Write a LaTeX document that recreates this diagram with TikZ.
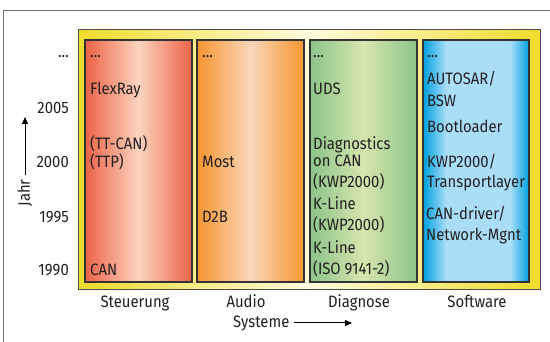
\documentclass[tikz,border=0pt]{standalone}
\usepackage{fontspec}
\setmainfont[FakeStretch=0.9]{Fira Sans}
\usetikzlibrary{arrows.meta}
\definecolor{ylw}{RGB}{240,220,42}
\definecolor{ylwl}{RGB}{255,251,222}
\definecolor{redE}{RGB}{236,98,70}
\definecolor{redM}{RGB}{252,212,192}
\definecolor{orE}{RGB}{245,150,48}
\definecolor{orM}{RGB}{251,214,186}
\definecolor{grE}{RGB}{140,196,138}
\definecolor{grM}{RGB}{214,230,174}
\definecolor{blE}{RGB}{0,160,224}
\definecolor{blM}{RGB}{170,222,248}
\definecolor{txt}{RGB}{35,31,32}
\pgfdeclarehorizontalshading{blueshade}{100bp}{color(0bp)=(blE); color(25bp)=(blE); color(36bp)=(blM); color(66bp)=(blM); color(75bp)=(blE); color(100bp)=(blE)}
\begin{document}
\begin{tikzpicture}[x=1pt,y=-1pt,
  every node/.style={font=\fontsize{16.5}{19}\selectfont, text=txt, inner sep=0pt},
  col/.style={draw=black!80, line width=1.1pt},
  lbl/.style={anchor=base west},
  yr/.style={anchor=base east},
  cat/.style={anchor=base},
  axarrow/.style={line width=1pt, -{Triangle[length=7pt,width=6pt]}}]
\useasboundingbox (0,0) rectangle (550,342);
\draw[black!55, line width=1pt] (3,345) -- (3,11) -- (553,11);
% yellow frame
\path[draw=black!70, line width=1pt, left color=ylw, right color=ylw, middle color=ylwl] (78,30) rectangle (540,290);
% columns
\path[col, left color=redE, right color=redE, middle color=redM] (85,40) rectangle (192,282);
\path[col, left color=orE, right color=orE, middle color=orM] (197,40) rectangle (304,282);
\path[col, left color=grE, right color=grE, middle color=grM] (310,40) rectangle (417,282);
\path[col, shading=blueshade, shading angle=0] (423,40) rectangle (529,282);
% year axis
\node[yr] (ydots) at (69,58) {...};
\node[yr] (y2005) at (69,114) {2005};
\node[yr] (y2000) at (69,168) {2000};
\node[yr] (y1995) at (69,223) {1995};
\node[yr] (y1990) at (69,276) {1990};
\node[rotate=90, anchor=base] (jahr) at (30,193) {Jahr};
\coordinate (jtip) at (25,117);
\draw[axarrow] (25,175) -- (jtip);
% column 1
\node[lbl] (c1a) at (90,58) {...};
\node[lbl] (c1b) at (90,95) {FlexRay};
\node[lbl] (c1c) at (90,150) {(TT-CAN)};
\node[lbl] (c1d) at (90,168) {(TTP)};
\node[lbl] (c1e) at (90,276) {CAN};
% column 2
\node[lbl] (c2a) at (202,58) {...};
\node[lbl] (c2b) at (202,168) {Most};
\node[lbl] (c2c) at (202,223) {D2B};
% column 3
\node[lbl] (c3a) at (313,58) {...};
\node[lbl] (c3b) at (313,95) {UDS};
\node[lbl] (c3c) at (313,150) {Diagnostics};
\node[lbl] (c3d) at (313,167) {on CAN};
\node[lbl] (c3e) at (313,188) {(KWP2000)};
\node[lbl] (c3f) at (313,210) {K-Line};
\node[lbl] (c3g) at (313,231) {(KWP2000)};
\node[lbl] (c3h) at (313,254) {K-Line};
\node[lbl] (c3i) at (313,275) {(ISO 9141-2)};
% column 4
\node[lbl] (c4a) at (427,58) {...};
\node[lbl] (c4b) at (427,85) {AUTOSAR/};
\node[lbl] (c4c) at (427,107) {BSW};
\node[lbl] (c4d) at (427,133) {Bootloader};
\node[lbl] (c4e) at (427,168) {KWP2000/};
\node[lbl] (c4f) at (427,188) {Transportlayer};
\node[lbl] (c4g) at (426,220) {CAN-driver/};
\node[lbl] (c4h) at (426,241) {Network-Mgnt};
% categories
\node[cat] (s1) at (135,308) {Steuerung};
\node[cat] (s2) at (246,308) {Audio};
\node[cat] (s3) at (359,308) {Diagnose};
\node[cat] (s4) at (477,308) {Software};
\node[anchor=base west] (sys) at (233,328) {Systeme};
\coordinate (systip) at (352,323);
\draw[axarrow] ([xshift=4pt]sys.east |- systip) -- (systip);
\end{tikzpicture}
\end{document}
